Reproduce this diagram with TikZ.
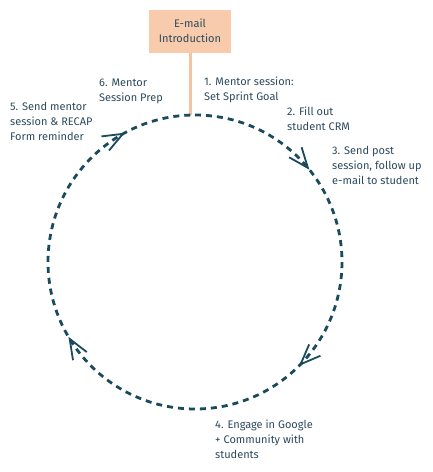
\documentclass[tikz,border=0pt]{standalone}
\usepackage{fontspec}
\setmainfont{Fira Sans}
\usetikzlibrary{arrows.meta,decorations.markings}
\definecolor{loopteal}{HTML}{1B4B5A}
\definecolor{labelslate}{HTML}{2C4A5C}
\definecolor{introfill}{HTML}{F8CBAD}
\definecolor{introline}{HTML}{F5C2A2}

\begin{document}
\begin{tikzpicture}[
  x=1pt, y=-1pt,
  barb/.tip={Straight Barb[length=20pt,width=16pt,line width=1.8pt]},
  introbox/.style={fill=introfill,minimum width=82pt,minimum height=43pt,
    align=center,text=labelslate,font=\fontsize{11}{15}\selectfont},
  feed/.style={draw=introline,line width=3pt},
  loop/.style={draw=loopteal,line width=2.8pt,dash pattern=on 6pt off 5pt},
  steplabel/.style={anchor=base west,inner sep=0pt,align=left,
    text=labelslate,font=\fontsize{11}{15}\selectfont}]
\useasboundingbox (0,0) rectangle (432,472);
\coordinate (hub) at (195,262);
\coordinate (top) at (190,115);
\node[introbox] (intro) at (190,31) {E-mail\\Introduction};
\draw[feed] (intro) -- (top);
% the mentoring loop, clockwise from the top
\draw[loop,postaction={decorate},decoration={markings,
    mark=at position 0.142 with {\arrow{barb}},
    mark=at position 0.375 with {\arrow{barb}},
    mark=at position 0.665 with {\arrow{barb}},
    mark=at position 0.921 with {\arrow{barb}}}]
  (hub) ++(0,-147) arc[start angle=-90,end angle=270,radius=147];
% labels sit on the baseline of their last line
\node[steplabel] (s1) at (204,100) {1. Mentor session:\\Set Sprint Goal};
\node[steplabel] (s2) at (287,130) {2. Fill out\\student CRM};
\node[steplabel] (s3) at (332,184) {3. Send post\\session, follow up\\e-mail to student};
\node[steplabel] (s4) at (215,458) {4. Engage in Google\\+ Community with\\students};
\node[steplabel] (s5) at (10,140) {5. Send mentor\\session \& RECAP\\Form reminder};
\node[steplabel] (s6) at (99,101) {6. Mentor\\Session Prep};
\end{tikzpicture}
\end{document}
